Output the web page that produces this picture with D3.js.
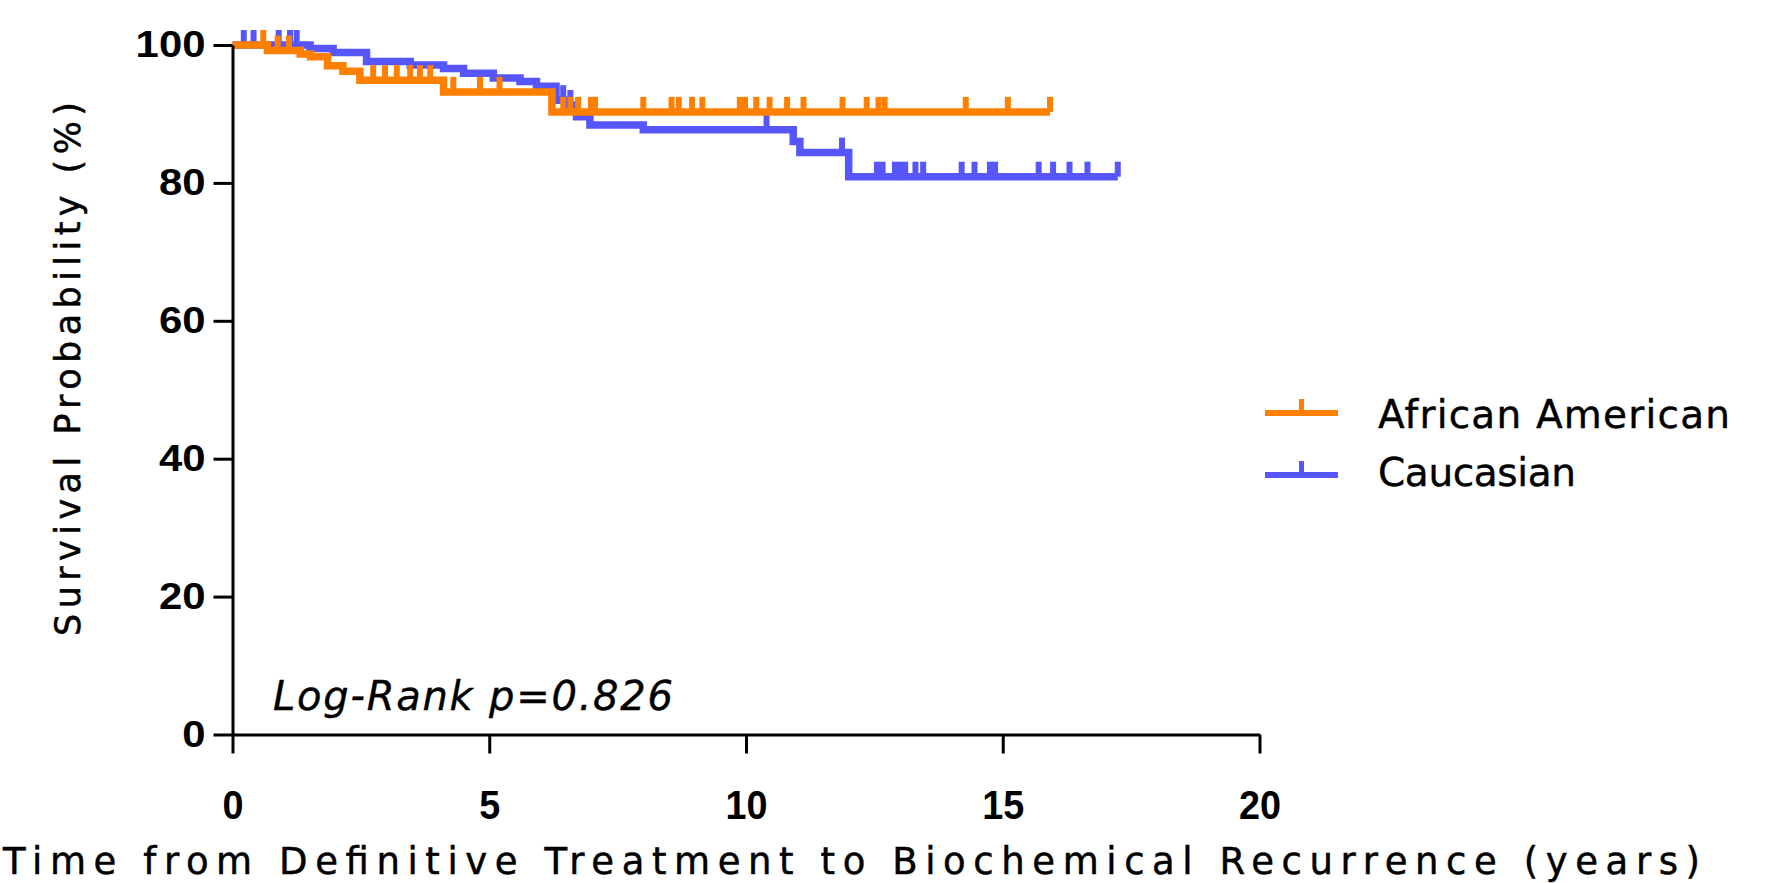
<!DOCTYPE html>
<html>
<head>
<meta charset="utf-8">
<script src="https://cdn.jsdelivr.net/npm/d3@7"></script>
<style>
body { margin: 0; background: #fff; }
</style>
</head>
<body>
<svg id="chart" width="1774" height="883"></svg>
<script>
// step curves (time in years, survival in %)
const aaTimes = [0, 0.68, 1.32, 1.52, 1.85, 2.15, 2.48, 4.11, 6.22, 15.92];
const aaSurv = [100, 99.2, 98.7, 98.3, 97.0, 96.2, 94.9, 93.2, 90.3, 90.3];
const aaCensor = [0.6, 0.88, 1.1, 2.74, 2.97, 3.2, 3.46, 3.65, 3.85, 4.3, 4.82, 5.2, 6.44, 6.58, 6.73,
    6.98, 7.06, 8.0, 8.55, 8.69, 8.95, 9.15, 9.88, 9.98, 10.2, 10.46, 10.8, 11.12, 11.88, 12.35, 12.58, 12.7, 14.28, 15.1, 15.92];

const cauTimes = [0, 1.51, 1.96, 2.61, 3.46, 4.11, 4.5, 5.08, 5.6, 5.92, 6.3, 6.51, 6.7, 6.96, 8.0, 10.92, 11.05, 12.0, 17.24];
const cauSurv = [100, 99.5, 98.9, 97.6, 97.1, 96.6, 95.9, 95.2, 94.7, 94.0, 92.0, 91.3, 89.6, 88.4, 87.7, 86.0, 84.4, 80.9, 80.9];
const cauCensor = [0.22, 0.41, 0.9, 1.12, 1.25, 6.44, 6.58, 10.4, 11.87, 12.55, 12.66, 12.9, 13.0, 13.1, 13.3, 13.45,
    14.2, 14.45, 14.75, 14.85, 15.7, 15.98, 16.3, 16.65, 17.24];

const xTicks = [0, 5, 10, 15, 20];
const yTicks = [0, 20, 40, 60, 80, 100];
const seriesNames = ['African American', 'Caucasian'];
const seriesColors = ['#ff8000', '#5656fa'];

const svg = d3.select('#chart');
svg.append('rect').attr('width', 1774).attr('height', 883).attr('fill', '#fff');

const xs = d3.scaleLinear().domain([0, 20]).range([232.5, 1259.5]);
const ys = d3.scaleLinear().domain([0, 100]).range([734.5, 45]);

const survivalAt = (times, surv, t) => {
    let s = surv[0];
    times.forEach((tt, i) => { if (tt <= t) s = surv[i]; });
    return s;
};

const stepLine = d3.line().x(d => xs(d[0])).y(d => ys(d[1])).curve(d3.curveStepAfter);

const drawSeries = (times, surv, censor, color) => {
    const g = svg.append('g');
    g.append('path')
        .datum(times.map((t, i) => [t, surv[i]]))
        .attr('d', stepLine)
        .attr('fill', 'none')
        .attr('stroke', color)
        .attr('stroke-width', 7.5);
    g.selectAll('line')
        .data(censor)
        .enter()
        .append('line')
        .attr('x1', d => xs(d))
        .attr('x2', d => xs(d))
        .attr('y1', d => ys(survivalAt(times, surv, d)))
        .attr('y2', d => ys(survivalAt(times, surv, d)) - 15)
        .attr('stroke', color)
        .attr('stroke-width', 6);
};

drawSeries(cauTimes, cauSurv, cauCensor, seriesColors[1]);
drawSeries(aaTimes, aaSurv, aaCensor, seriesColors[0]);

// axes
const yAxis = svg.append('g')
    .attr('transform', 'translate(232.5,0)')
    .call(d3.axisLeft(ys).tickValues(yTicks).tickSize(19).tickSizeOuter(0).tickPadding(8));
const xAxis = svg.append('g')
    .attr('transform', 'translate(0,734.5)')
    .call(d3.axisBottom(xs).tickValues(xTicks).tickSize(19).tickSizeOuter(0).tickPadding(36));

[yAxis, xAxis].forEach(ax => {
    ax.select('.domain').attr('stroke', '#000').attr('stroke-width', 3);
    ax.selectAll('.tick line').attr('stroke', '#000').attr('stroke-width', 3);
    ax.selectAll('.tick text')
        .attr('fill', '#000')
        .attr('font-family', '"Liberation Sans", Arial, sans-serif')
        .attr('font-weight', 'bold');
});
yAxis.selectAll('.tick text').attr('font-size', 36)
    .attr('textLength', d => String(d).length * 23.3).attr('lengthAdjust', 'spacingAndGlyphs');
xAxis.selectAll('.tick text').attr('font-size', 41)
    .attr('textLength', d => String(d).length * 21).attr('lengthAdjust', 'spacingAndGlyphs');

// titles
svg.append('text')
    .attr('x', 3).attr('y', 874)
    .attr('font-family', '"DejaVu Sans", sans-serif').attr('font-size', 37)
    .attr('stroke', '#000').attr('stroke-width', 0.5)
    .attr('textLength', 1697).attr('lengthAdjust', 'spacing')
    .attr('fill', '#000')
    .text('Time from Definitive Treatment to Biochemical Recurrence (years)');

svg.append('text')
    .attr('transform', 'translate(80,369) rotate(-90)')
    .attr('text-anchor', 'middle')
    .attr('font-family', '"DejaVu Sans", sans-serif').attr('font-size', 35)
    .attr('stroke', '#000').attr('stroke-width', 0.5)
    .attr('textLength', 534).attr('lengthAdjust', 'spacing')
    .attr('fill', '#000')
    .text('Survival Probability (%)');

svg.append('text')
    .attr('x', 273).attr('y', 710)
    .attr('font-family', '"DejaVu Sans", sans-serif').attr('font-size', 40)
    .attr('font-style', 'italic')
    .attr('stroke', '#000').attr('stroke-width', 0.4)
    .attr('textLength', 400).attr('lengthAdjust', 'spacing')
    .attr('fill', '#000')
    .text('Log-Rank p=0.826');

// legend
const legend = svg.append('g').attr('transform', 'translate(1265,413)');
const legendRows = legend.selectAll('g')
    .data(seriesNames)
    .enter()
    .append('g')
    .attr('transform', (d, i) => `translate(0,${i * 58})`);
legendRows.append('line')
    .attr('x1', 0).attr('x2', 73).attr('y1', (d, i) => i * 4).attr('y2', (d, i) => i * 4)
    .attr('stroke', (d, i) => seriesColors[i]).attr('stroke-width', 6);
legendRows.append('line')
    .attr('x1', 36.5).attr('x2', 36.5).attr('y1', (d, i) => i * 4).attr('y2', (d, i) => i * 4 - 14)
    .attr('stroke', (d, i) => seriesColors[i]).attr('stroke-width', 5);
legendRows.append('text')
    .attr('x', 113).attr('y', 15)
    .attr('font-family', '"DejaVu Sans", sans-serif').attr('font-size', 39)
    .attr('stroke', '#000').attr('stroke-width', 0.4)
    .attr('fill', '#000')
    .attr('textLength', (d) => d.length * 22).attr('lengthAdjust', 'spacing')
    .text(d => d);
</script>
</body>
</html>
